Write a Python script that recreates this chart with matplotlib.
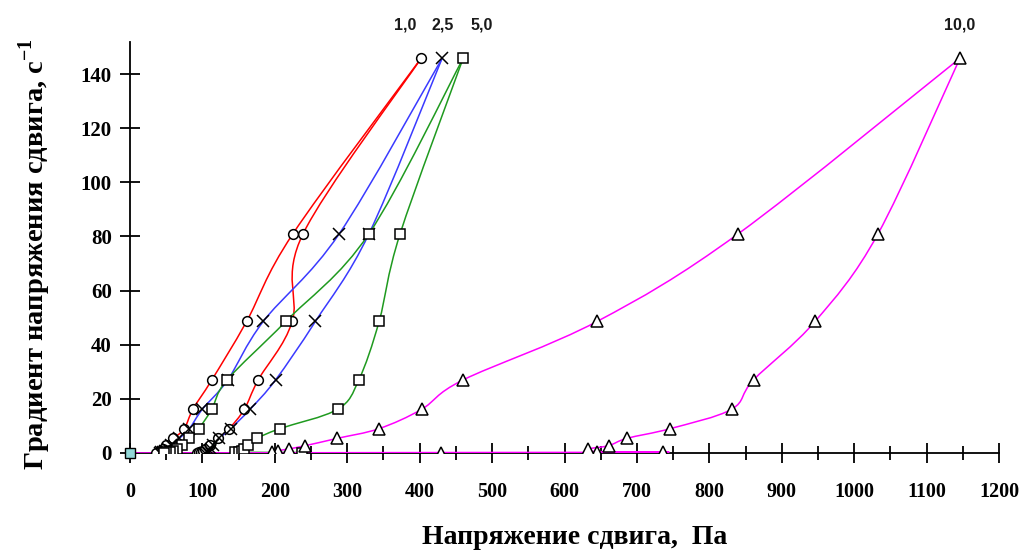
import matplotlib
matplotlib.use("Agg")
import matplotlib.pyplot as plt
from matplotlib.path import Path
from matplotlib.patches import PathPatch
from matplotlib.ticker import MultipleLocator

# ── Данные: градиент скорости (с^-1) и напряжение сдвига (Па) ─────────────
# 1,0 — подъём, затем спуск (вершина — индекс 12)
x_1_0 = [92, 95, 98, 101, 104, 110, 122, 137, 158, 177, 224, 239, 402,
         225, 161, 113, 87, 75, 60, 50, 45, 42, 40, 38, 36]
y_1_0 = [0.1667, 0.3, 0.5, 0.9, 1.5, 3.0, 5.4, 9.0, 16.2, 27.0, 48.6, 81.0, 145.8,
         81.0, 48.6, 27.0, 16.2, 9.0, 5.4, 3.0, 1.5, 0.9, 0.5, 0.3, 0.1667]

# 2,5
x_2_5 = [104, 106, 108, 110, 112, 115, 123, 139, 166, 201, 256, 330, 431,
         289, 184, 135, 100, 82, 68, 57, 52, 48, 45, 43, 41]
y_2_5 = y_1_0

# 5,0
x_5_0 = [238, 145, 150, 155, 158, 163, 175, 207, 287, 316, 344, 373, 460,
         330, 215, 134, 113, 95, 82, 72, 65, 60, 55, 50, 47]
y_5_0 = y_1_0

# 10,0
x_10_0 = [0, 430, 736, 645, 633, 661, 686, 746, 831, 861, 946, 1033, 1146,
          840, 645, 460, 403, 344, 286, 242, 219, 205, 196]
y_10_0 = [0, 0.1667, 0.3, 0.5, 1.5, 2.7, 5.4, 9.0, 16.2, 27.0, 48.6, 81.0, 145.8,
          81.0, 48.6, 27.0, 16.2, 9.0, 5.4, 2.7, 1.5, 0.9, 0.5]

TOP = 12  # индекс верхней точки в каждой серии

labels = ["1,0", "2,5", "5,0", "10,0"]
label_x = [380, 432, 486, 1146]

plt.rcParams["mathtext.fontset"] = "custom"
plt.rcParams["mathtext.rm"] = "Liberation Serif:bold"
plt.rcParams["mathtext.bf"] = "Liberation Serif:bold"

SERIF = "Liberation Serif"


def smooth_path(xs, ys):
    """Сглаженная линия (кривые Безье, касательные Катмулла-Рома)."""
    pts = list(zip(xs, ys))
    n = len(pts)
    verts = [pts[0]]
    codes = [Path.MOVETO]
    for i in range(n - 1):
        p0 = pts[i - 1] if i > 0 else pts[i]
        p1 = pts[i]
        p2 = pts[i + 1]
        p3 = pts[i + 2] if i + 2 < n else pts[i + 1]
        c1 = (p1[0] + (p2[0] - p0[0]) / 6, p1[1] + (p2[1] - p0[1]) / 6)
        c2 = (p2[0] - (p3[0] - p1[0]) / 6, p2[1] - (p3[1] - p1[1]) / 6)
        verts += [c1, c2, p2]
        codes += [Path.CURVE4] * 3
    return Path(verts, codes)


YMAX = 152
fig = plt.figure(figsize=(10.27, 5.52), dpi=100)
ax = fig.add_axes([130 / 1027, 1 - 453 / 552, 869 / 1027, YMAX * 2.707 / 552])

series = [
    (x_1_0, y_1_0, "#ff0000", "o", 7, "white", None),
    (x_2_5, y_2_5, "#3a3aff", "x", 8, "black", None),
    (x_5_0, y_5_0, "#1f9a1f", "s", 7.5, "white", None),
    (x_10_0, y_10_0, "#ff00ff", "^", 8.5, "white", range(1, len(x_10_0))),
]

for xs, ys, col, mk, ms, fc, every in series:
    # подъём и спуск сглаживаются отдельно, вершина — острый угол
    for a, b in ((0, TOP + 1), (TOP, len(xs))):
        patch = PathPatch(smooth_path(xs[a:b], ys[a:b]), facecolor="none",
                          edgecolor=col, linewidth=1.1, zorder=3)
        ax.add_patch(patch)
    ax.plot(xs, ys, linestyle="none", marker=mk, markersize=ms,
            markerfacecolor=fc, markeredgecolor="black", markeredgewidth=1.1,
            markevery=every, zorder=4)

ax.plot([0], [0], linestyle="none", marker="s", markersize=7.5,
        markerfacecolor="#93d8d8", markeredgecolor="black", markeredgewidth=1.0,
        zorder=5, clip_on=False)

for lab, lx in zip(labels, label_x):
    ax.text(lx, 158, lab, ha="center", va="center", fontsize=11.5,
            fontweight="bold", family="Liberation Sans", color="#1a1a1a",
            clip_on=False)

ax.set_xlim(0, 1200)
ax.set_ylim(0, YMAX)
ax.xaxis.set_major_locator(MultipleLocator(100))
ax.xaxis.set_minor_locator(MultipleLocator(50))
ax.set_yticks(range(0, 141, 20))

for s in ("top", "right"):
    ax.spines[s].set_visible(False)
for s in ("left", "bottom"):
    ax.spines[s].set_linewidth(1.3)

ax.tick_params(axis="both", which="major", direction="inout", length=14,
               width=1.3)
ax.tick_params(axis="x", which="minor", direction="inout", length=10, width=1.3)
ax.tick_params(axis="x", which="major", pad=14, labelsize=14.5)
ax.tick_params(axis="y", which="major", pad=6, labelsize=15)
for t in ax.get_xticklabels() + ax.get_yticklabels():
    t.set_family(SERIF)
    t.set_fontweight("bold")

fig.text(575 / 1027, 1 - 537 / 552, "Напряжение сдвига,  Па", ha="center",
         va="center", fontsize=20, fontweight="bold", family=SERIF)
fig.text(35 / 1027, 1 - 254 / 552, "Градиент напряжения сдвига, с$^{-1}$",
         ha="center", va="center", rotation=90, fontsize=20.5,
         fontweight="bold", family=SERIF)

fig.savefig("out.png", dpi=100)
